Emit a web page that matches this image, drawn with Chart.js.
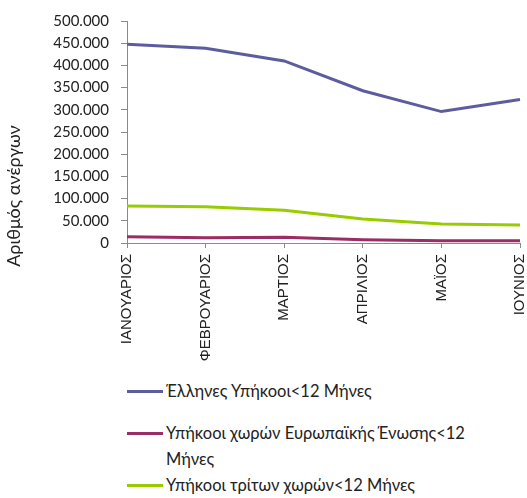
<!DOCTYPE html>
<html lang="el">
<head>
<meta charset="utf-8">
<title>Άνεργοι &lt;12 μήνες</title>
<script src="https://cdn.jsdelivr.net/npm/chart.js@4.4.1/dist/chart.umd.min.js"></script>
<style>
  html, body { margin: 0; padding: 0; background: #fff; }
  #wrap { position: relative; width: 527px; height: 498px; overflow: hidden; }
  #chart { position: absolute; left: 0; top: 0; }
  #legend {
    position: absolute; left: 127px; top: 378px; width: 395px;
    font-family: Lato, 'Open Sans', sans-serif; font-size: 16.5px; color: #222;
  }
  .item { display: flex; align-items: flex-start; line-height: 26px; }
  .item + .item { margin-top: 16px; }
  .item:nth-child(3) { margin-top: 0; }
  .swatch { flex: 0 0 36px; height: 3px; margin: 12px 3px 0 0; }
  .label { width: 312px; }
</style>
</head>
<body>
<div id="wrap">
  <canvas id="chart" width="527" height="372"></canvas>
  <div id="legend"></div>
</div>
<script>
// Data
const months = ['ΙΑΝΟΥΑΡΙΟΣ', 'ΦΕΒΡΟΥΑΡΙΟΣ', 'ΜΑΡΤΙΟΣ', 'ΑΠΡΙΛΙΟΣ', 'ΜΑΪΟΣ', 'ΙΟΥΝΙΟΣ'];
const greeks = [447800, 438800, 410000, 343000, 296000, 323000];
const euCitizens = [14100, 12000, 12800, 7400, 5200, 5200];
const thirdCountry = [83600, 81400, 74000, 53800, 42600, 40400];
const seriesNames = [
  'Έλληνες Υπήκοοι<12 Μήνες',
  'Υπήκοοι χωρών Ευρωπαϊκής Ένωσης<12 Μήνες',
  'Υπήκοοι τρίτων χωρών<12 Μήνες'
];
const yTitle = 'Αριθμός ανέργων';

const axisColor = '#8a8a8a';
const textColor = '#222';

// y-axis title sits lower than the axis centre in the original, draw it by hand
const yTitlePlugin = {
  id: 'yTitle',
  afterDraw(chart) {
    const ctx = chart.ctx;
    ctx.save();
    ctx.translate(14, 196);
    ctx.rotate(-Math.PI / 2);
    ctx.font = '18px Lato, "Open Sans", sans-serif';
    ctx.fillStyle = textColor;
    ctx.textAlign = 'center';
    ctx.textBaseline = 'middle';
    ctx.fillText(yTitle, 0, 0);
    ctx.restore();
  }
};

const fmt = v => v.toLocaleString('el-GR');

const chart = new Chart(document.getElementById('chart').getContext('2d'), {
  type: 'line',
  data: {
    labels: months,
    datasets: [
      { label: seriesNames[0], data: greeks, borderColor: '#5d5d9e' },
      { label: seriesNames[1], data: euCitizens, borderColor: '#9b2d64' },
      { label: seriesNames[2], data: thirdCountry, borderColor: '#99cc00' },
    ].map(d => Object.assign(d, {
      borderWidth: 3,
      pointRadius: 0,
      fill: false,
      tension: 0,
    }))
  },
  options: {
    responsive: false,
    animation: false,
    layout: { padding: { left: 0, right: 0, top: 20, bottom: 0 } },
    plugins: { legend: { display: false }, tooltip: { enabled: false } },
    scales: {
      x: {
        offset: false,
        grid: { drawOnChartArea: false, drawTicks: true, tickLength: 5, color: axisColor },
        border: { display: true, color: axisColor },
        ticks: {
          maxRotation: 90, minRotation: 90, padding: 6, autoSkip: false,
          color: textColor,
          font: { family: '"Liberation Sans", Arial, sans-serif', size: 15 },
        },
        afterFit(scale) {
          scale.height = 372 - 243;
          scale.paddingRight = 7;
        },
      },
      y: {
        min: 0, max: 500000,
        grid: { drawOnChartArea: false, drawTicks: true, tickLength: 6, color: axisColor },
        border: { display: true, color: axisColor },
        ticks: {
          stepSize: 50000, padding: 12, autoSkip: false,
          color: textColor,
          font: { family: 'Lato, "Open Sans", sans-serif', size: 15 },
          callback: v => fmt(v),
        },
        afterFit(scale) { scale.width = 127; },
      }
    }
  },
  plugins: [yTitlePlugin]
});

// HTML legend built from the datasets
const legend = document.getElementById('legend');
chart.data.datasets.forEach(ds => {
  const item = document.createElement('div');
  item.className = 'item';
  const sw = document.createElement('span');
  sw.className = 'swatch';
  sw.style.background = ds.borderColor;
  const lab = document.createElement('span');
  lab.className = 'label';
  lab.textContent = ds.label;
  item.appendChild(sw);
  item.appendChild(lab);
  legend.appendChild(item);
});
</script>
</body>
</html>
